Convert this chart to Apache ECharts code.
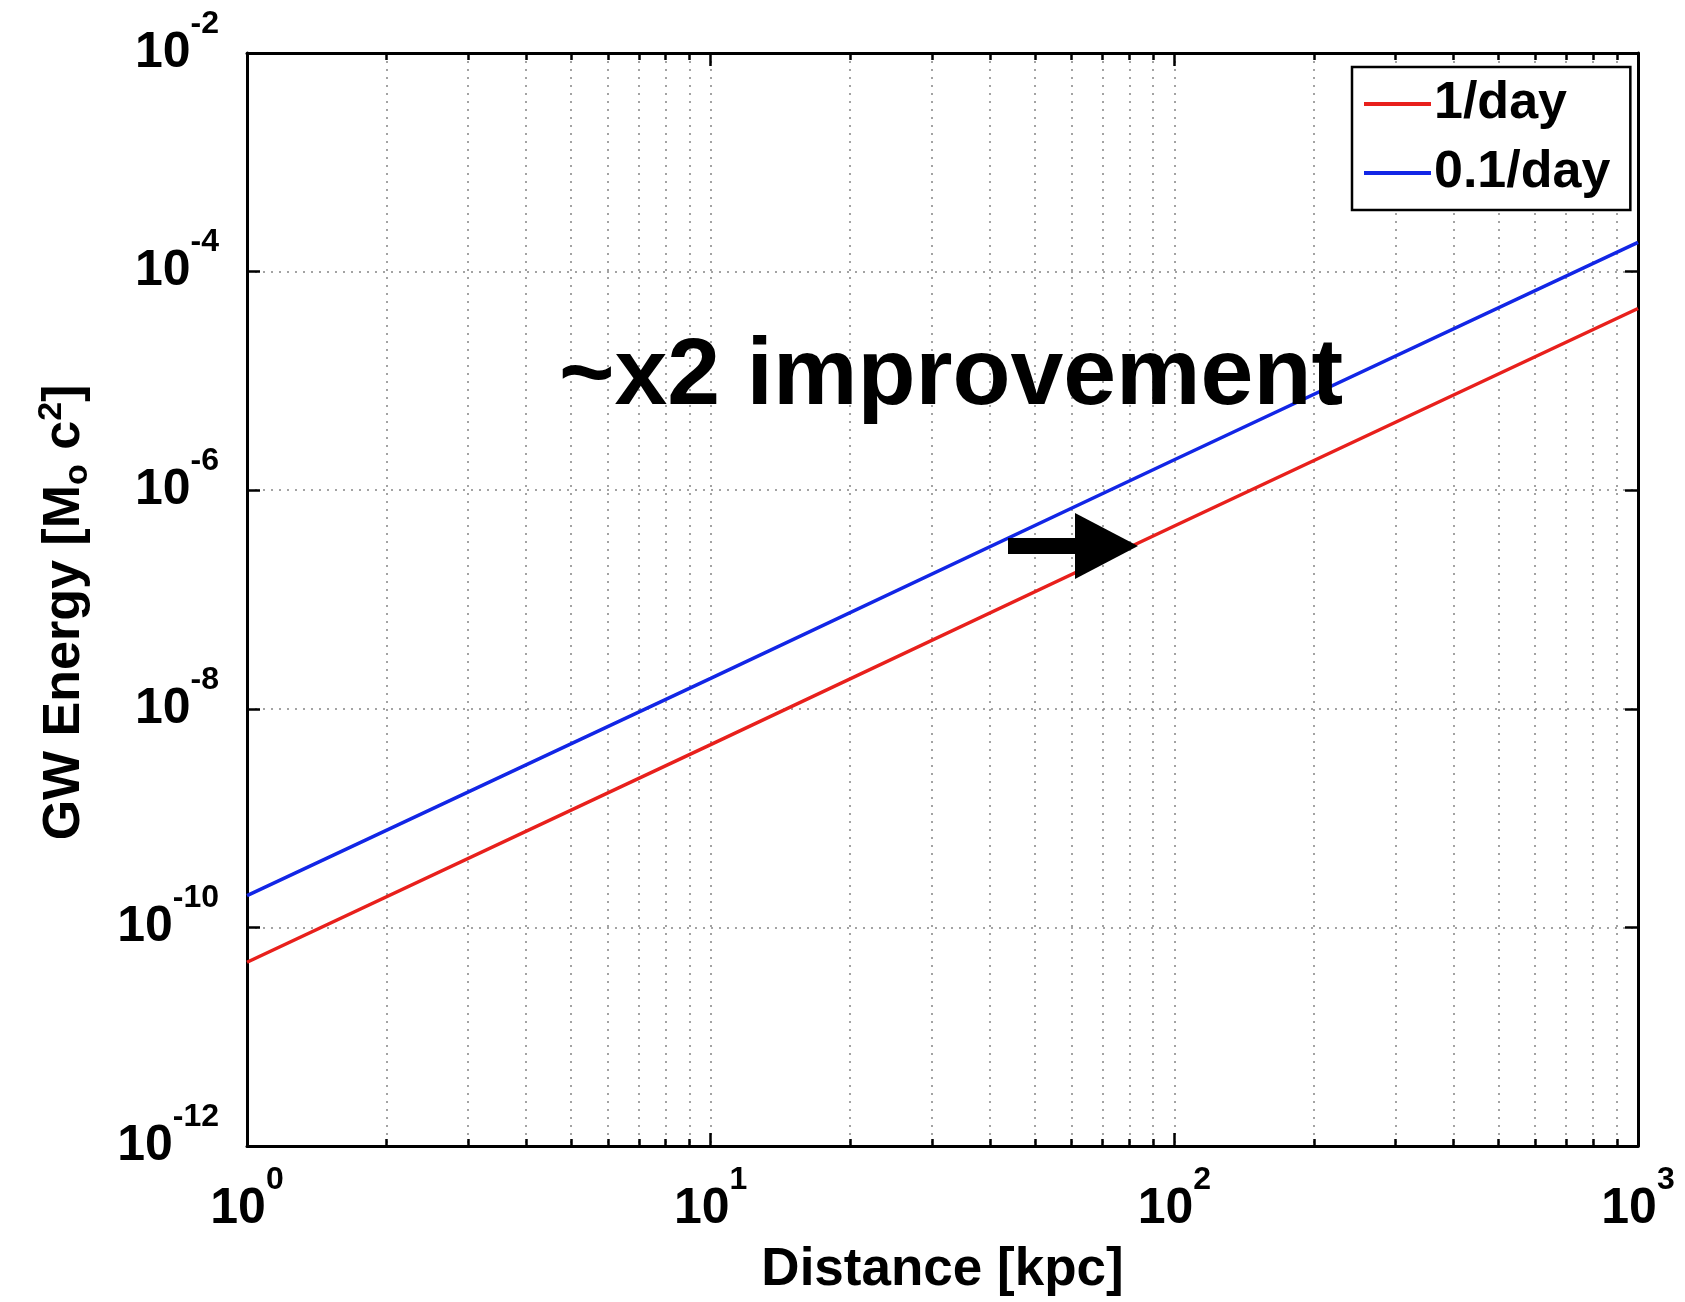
<!DOCTYPE html>
<html>
<head>
<meta charset="utf-8">
<script src="https://cdn.jsdelivr.net/npm/echarts@6/dist/echarts.min.js"></script>
<style>
html,body{margin:0;padding:0;background:#fff;}
#chart{width:1685px;height:1302px;}
</style>
</head>
<body>
<div id="chart"></div>
<script>
// ---- data ----
const distanceKpc = [1, 10, 100, 1000];
const energyRate1 = [4.8e-11, 4.7e-9, 4.7e-7, 4.6e-5];     // 1/day
const energyRate01 = [1.95e-10, 1.9e-8, 1.9e-6, 1.85e-4];  // 0.1/day
const seriesNames = ['1/day', '0.1/day'];
const seriesColors = ['#e8201c', '#1226e6'];
const xRange = [1, 1000];
const yRange = [1e-12, 1e-2];
const xTitle = 'Distance [kpc]';
const yTitle = 'GW Energy [M{sub|o} c{sup|2}]';
const annotationText = '~x2 improvement';

const FONT = "'Liberation Sans', Arial, Helvetica, sans-serif";

function supLabel(v) {
  const e = Math.round(Math.log10(v));
  return '{b|10}{s|' + e + '}';
}
const labelRich = {
  b: { fontFamily: FONT, fontWeight: 'bold', fontSize: 50, lineHeight: 90, color: '#000' },
  s: { fontFamily: FONT, fontWeight: 'bold', fontSize: 32, lineHeight: 32, color: '#000', verticalAlign: 'top' }
};
const gridLine = { show: true, lineStyle: { color: '#858585', width: 1.5, type: [2, 6] } };

function pairs(xs, ys) { return xs.map((x, i) => [x, ys[i]]); }

const chart = echarts.init(document.getElementById('chart'), null, { renderer: 'canvas' });

const baseX = {
  type: 'log', logBase: 10, min: xRange[0], max: xRange[1], interval: 1,
  axisLine: { show: true, onZero: false, lineStyle: { color: '#000', width: 3 } },
  axisTick: { show: true, inside: true, length: 13, lineStyle: { color: '#000', width: 2.5 } },
  minorTick: { show: true, splitNumber: 9, length: 7, lineStyle: { color: '#000', width: 2.5 } }
};
const baseY = {
  type: 'log', logBase: 10, min: yRange[0], max: yRange[1], interval: 2,
  axisLine: { show: true, onZero: false, lineStyle: { color: '#000', width: 3 } },
  axisTick: { show: true, inside: true, length: 13, lineStyle: { color: '#000', width: 2.5 } }
};

chart.setOption({
  animation: false,
  backgroundColor: '#fff',
  grid: { left: 247, right: 47, top: 53, bottom: 152, containLabel: false },
  legend: {
    data: seriesNames,
    orient: 'vertical',
    left: 1352, top: 67,
    padding: [11, 20, 11, 12],
    itemGap: 17,
    itemWidth: 67, itemHeight: 4,
    icon: 'rect',
    backgroundColor: '#fff',
    borderColor: '#000', borderWidth: 2.5,
    textStyle: { fontFamily: FONT, fontWeight: 'bold', fontSize: 52, lineHeight: 52, color: '#000', padding: [0, 0, 0, -2] }
  },
  xAxis: [
    Object.assign({}, baseX, {
      position: 'bottom',
      name: xTitle, nameLocation: 'middle', nameGap: 98,
      nameTextStyle: { fontFamily: FONT, fontWeight: 'bold', fontSize: 53, color: '#000' },
      axisLabel: { show: true, margin: 18, formatter: supLabel, rich: labelRich, showMinLabel: true, showMaxLabel: true },
      splitLine: gridLine,
      minorSplitLine: gridLine
    }),
    Object.assign({}, baseX, {
      position: 'top',
      axisLabel: { show: false },
      splitLine: { show: false }, minorSplitLine: { show: false }
    })
  ],
  yAxis: [
    Object.assign({}, baseY, {
      position: 'left',
      name: yTitle, nameLocation: 'middle', nameGap: 152, nameRotate: 90,
      nameTextStyle: {
        fontFamily: FONT, fontWeight: 'bold', fontSize: 52, lineHeight: 60, color: '#000',
        padding: [0, 26, 0, 0],
        rich: {
          sub: { fontFamily: FONT, fontWeight: 'bold', fontSize: 34, lineHeight: 30, color: '#000', verticalAlign: 'bottom' },
          sup: { fontFamily: FONT, fontWeight: 'bold', fontSize: 34, lineHeight: 30, color: '#000', verticalAlign: 'top' }
        }
      },
      axisLabel: { show: true, margin: 28, formatter: supLabel, rich: labelRich, showMinLabel: true, showMaxLabel: true },
      splitLine: gridLine
    }),
    Object.assign({}, baseY, {
      position: 'right',
      axisLabel: { show: false },
      splitLine: { show: false }
    })
  ],
  series: [
    {
      name: seriesNames[0], type: 'line', xAxisIndex: 0, yAxisIndex: 0,
      data: pairs(distanceKpc, energyRate1),
      showSymbol: false, symbol: 'none',
      lineStyle: { color: seriesColors[0], width: 3.5 },
      itemStyle: { color: seriesColors[0] }
    },
    {
      name: seriesNames[1], type: 'line', xAxisIndex: 0, yAxisIndex: 0,
      data: pairs(distanceKpc, energyRate01),
      showSymbol: false, symbol: 'none',
      lineStyle: { color: seriesColors[1], width: 3.5 },
      itemStyle: { color: seriesColors[1] }
    }
  ],
  graphic: [
    {
      type: 'text', left: 559, top: 330, z: 100,
      style: { text: annotationText, fontFamily: FONT, fontWeight: 'bold', fontSize: 95, fill: '#000' }
    },
    {
      type: 'rect', z: 100,
      shape: { x: 1008, y: 538, width: 72, height: 16 },
      style: { fill: '#000' }
    },
    {
      type: 'polygon', z: 100,
      shape: { points: [[1075, 513], [1138, 546], [1075, 579]] },
      style: { fill: '#000' }
    }
  ]
});
</script>
</body>
</html>
